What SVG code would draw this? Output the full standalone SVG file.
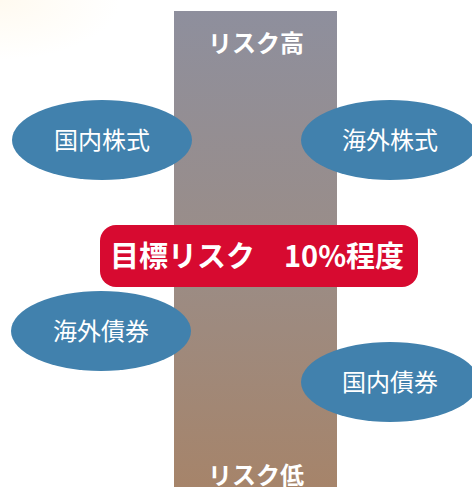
<svg xmlns="http://www.w3.org/2000/svg" width="472" height="497" viewBox="0 0 472 497">
<style>
.lbl{font-family:"Noto Sans CJK JP","Noto Sans",sans-serif;fill:#fff;text-anchor:middle}
.ell{fill:#4181ad}
</style>
<defs>
<linearGradient id="col" x1="0" y1="0" x2="0" y2="1">
<stop offset="0" stop-color="#8e8f9d"/>
<stop offset="0.5" stop-color="#9a8d88"/>
<stop offset="1" stop-color="#a6846a"/>
</linearGradient>
<radialGradient id="glow" cx="0" cy="0" r="1" gradientUnits="userSpaceOnUse" gradientTransform="translate(0,0) scale(120,60)">
<stop offset="0" stop-color="#fffaf0"/>
<stop offset="1" stop-color="#fffaf0" stop-opacity="0"/>
</radialGradient>
</defs>
<rect width="472" height="497" fill="#fff"/>
<rect width="140" height="70" fill="url(#glow)"/>
<g id="column">
<rect x="174" y="11" width="163" height="476" fill="url(#col)"/>
<text class="lbl" x="256" y="52" font-size="24" font-weight="bold">リスク高</text>
<text class="lbl" x="256" y="484" font-size="24" font-weight="bold">リスク低</text>
</g>
<g id="connectors"></g>
<g id="n1"><ellipse class="ell" cx="102" cy="140" rx="90" ry="40"/><text class="lbl" x="102" y="149" font-size="24">国内株式</text></g>
<g id="n2"><ellipse class="ell" cx="390" cy="140" rx="89" ry="40"/><text class="lbl" x="390" y="149" font-size="24">海外株式</text></g>
<g id="n3"><ellipse class="ell" cx="101" cy="331" rx="90" ry="40"/><text class="lbl" x="101" y="340" font-size="24">海外債券</text></g>
<g id="n4"><ellipse class="ell" cx="390" cy="382" rx="89" ry="40"/><text class="lbl" x="390" y="391" font-size="24">国内債券</text></g>
<g id="target"><rect x="100" y="225" width="318" height="62" rx="16" fill="#d70a30"/><text class="lbl" x="257" y="267" font-size="29" font-weight="bold">目標リスク　10%程度</text></g>
</svg>
